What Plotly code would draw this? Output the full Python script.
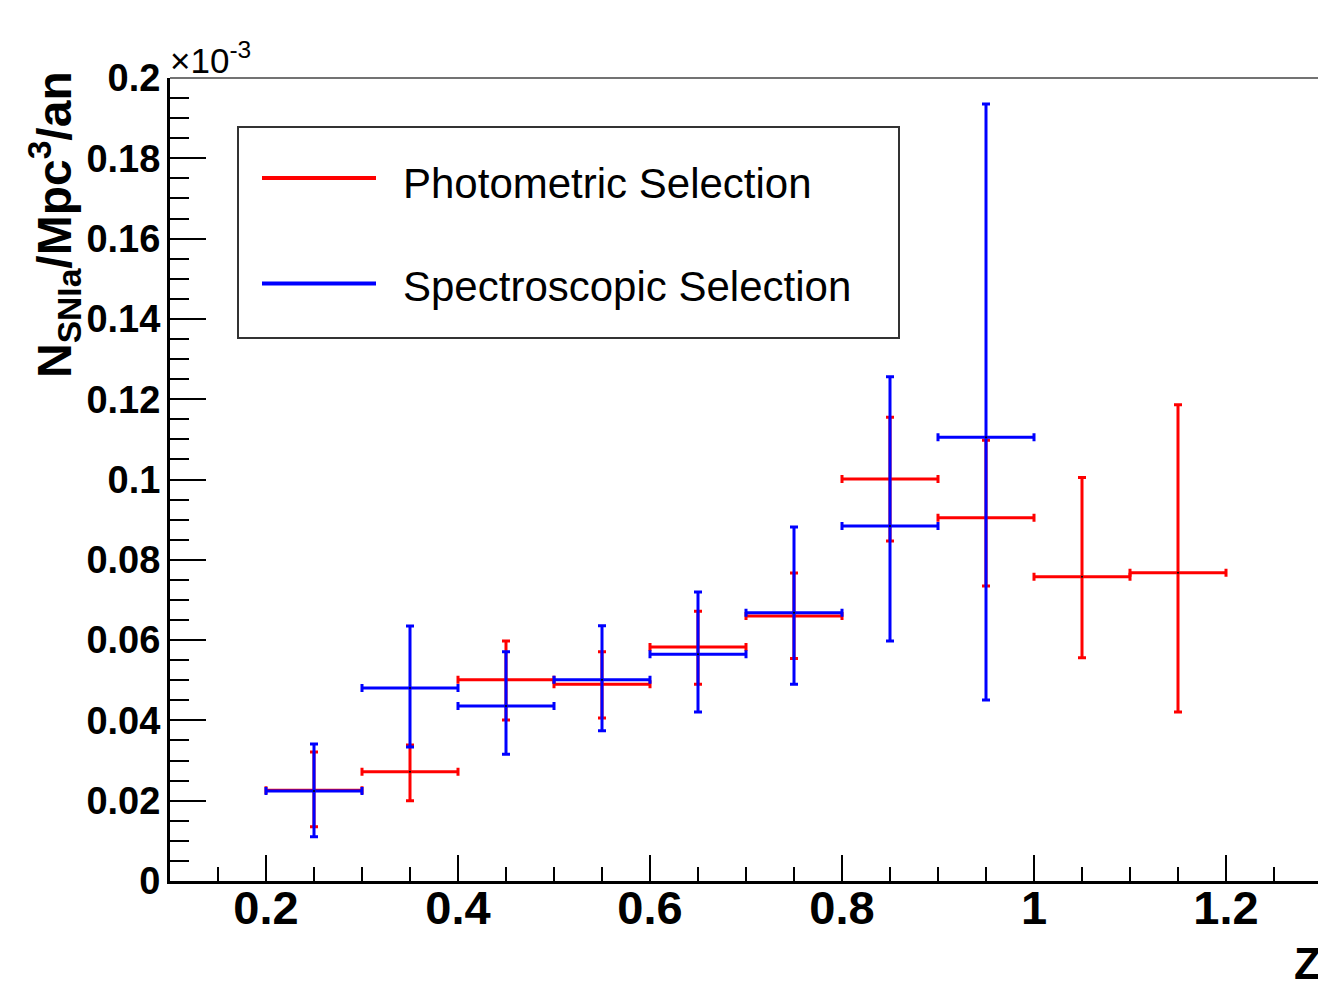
import plotly.graph_objects as go

# ---------------- data (values in units of 1e-3 SNIa / Mpc^3 / an) ----------------
phot_z = [0.25, 0.35, 0.45, 0.55, 0.65, 0.75, 0.85, 0.95, 1.05, 1.15]
phot_rate = [0.0226, 0.0272, 0.0501, 0.0490, 0.0583, 0.0660, 0.1001, 0.0905, 0.0758, 0.0768]
phot_upper = [0.0321, 0.0339, 0.0598, 0.0571, 0.0672, 0.0767, 0.1155, 0.1098, 0.1005, 0.1186]
phot_lower = [0.0135, 0.0200, 0.0401, 0.0406, 0.0490, 0.0554, 0.0847, 0.0735, 0.0556, 0.0421]

spec_z = [0.25, 0.35, 0.45, 0.55, 0.65, 0.75, 0.85, 0.95]
spec_rate = [0.0224, 0.0481, 0.0436, 0.0501, 0.0565, 0.0668, 0.0884, 0.1105]
spec_upper = [0.0341, 0.0635, 0.0571, 0.0636, 0.0720, 0.0882, 0.1256, 0.1935]
spec_lower = [0.0110, 0.0334, 0.0316, 0.0374, 0.0421, 0.0490, 0.0598, 0.0451]

bin_half_width = 0.05

x_tick_vals = [0.2, 0.4, 0.6, 0.8, 1.0, 1.2]
x_tick_labels = ["0.2", "0.4", "0.6", "0.8", "1", "1.2"]
y_tick_vals = [0, 0.02, 0.04, 0.06, 0.08, 0.1, 0.12, 0.14, 0.16, 0.18, 0.2]
y_tick_labels = ["0", "0.02", "0.04", "0.06", "0.08", "0.1", "0.12", "0.14", "0.16", "0.18", "0.2"]

series_names = ["Photometric Selection", "Spectroscopic Selection"]
series_colors = ["#ff0000", "#0000ff"]

FONT = "Liberation Sans, Arial, Helvetica, sans-serif"


def trace(z, rate, upper, lower, name, color):
    return go.Scatter(
        x=z, y=rate, name=name, mode="markers",
        marker=dict(size=2, color="black"),
        error_x=dict(type="constant", value=bin_half_width, color=color,
                     thickness=3, width=4),
        error_y=dict(type="data", symmetric=False,
                     array=[u - r for u, r in zip(upper, rate)],
                     arrayminus=[r - l for r, l in zip(rate, lower)],
                     color=color, thickness=3, width=4),
        showlegend=False,
    )


fig = go.Figure()
fig.add_trace(trace(phot_z, phot_rate, phot_upper, phot_lower, series_names[0], series_colors[0]))
fig.add_trace(trace(spec_z, spec_rate, spec_upper, spec_lower, series_names[1], series_colors[1]))

# plot area in pixels: x 170..1318, y 78..881
L, R, T, B = 170, 1318, 78, 881
W, H = R - L, B - T


def px(x):
    return (x - L) / W


def py(y):
    return (B - y) / H


fig.update_layout(
    width=1318, height=983,
    margin=dict(l=L, r=1318 - R, t=T, b=983 - B, pad=0),
    paper_bgcolor="white", plot_bgcolor="white",
    xaxis=dict(
        range=[0.1, 0.1 + W / 960.0],
        tickmode="array", tickvals=x_tick_vals, ticktext=x_tick_labels,
        ticks="inside", ticklen=26, tickwidth=1.5, tickcolor="black",
        minor=dict(ticks="inside", ticklen=14, tickwidth=1.5, tickcolor="black",
                   tickmode="linear", tick0=0, dtick=0.05),
        showline=True, linewidth=3, linecolor="black",
        showgrid=False, zeroline=False,
        tickfont=dict(family=FONT, size=47, color="black", weight="bold"),
        ticklabelstandoff=-16,
    ),
    yaxis=dict(
        range=[0, 0.2],
        tickmode="array", tickvals=y_tick_vals, ticktext=y_tick_labels,
        ticks="inside", ticklen=36, tickwidth=1.5, tickcolor="black",
        minor=dict(ticks="inside", ticklen=19, tickwidth=1.5, tickcolor="black",
                   tickmode="linear", tick0=0, dtick=0.005),
        showline=True, linewidth=3, linecolor="black",
        showgrid=False, zeroline=False,
        tickfont=dict(family=FONT, size=38, color="black", weight="bold"),
        ticklabelstandoff=-1,
    ),
)

shapes = [
    # top frame
    dict(type="line", xref="paper", yref="paper", x0=0, x1=1, y0=1, y1=1,
         line=dict(color="#444444", width=1.5)),
    # legend box
    dict(type="rect", xref="paper", yref="paper",
         x0=px(238), x1=px(899), y0=py(338), y1=py(127),
         line=dict(color="#333333", width=2), fillcolor="white", layer="below"),
    dict(type="line", xref="paper", yref="paper", x0=px(262), x1=px(376),
         y0=py(178), y1=py(178), line=dict(color=series_colors[0], width=4)),
    dict(type="line", xref="paper", yref="paper", x0=px(262), x1=px(376),
         y0=py(283.5), y1=py(283.5), line=dict(color=series_colors[1], width=4)),
]
fig.update_layout(shapes=shapes)

annotations = [
    dict(text=series_names[0], xref="paper", yref="paper", x=px(401), y=py(184),
         xanchor="left", yanchor="middle", showarrow=False,
         font=dict(family=FONT, size=42, color="black")),
    dict(text=series_names[1], xref="paper", yref="paper", x=px(401), y=py(286),
         xanchor="left", yanchor="middle", showarrow=False,
         font=dict(family=FONT, size=42, color="black")),
    dict(text="<b>N<sub>SNIa</sub>/Mpc<sup>3</sup>/an</b>", xref="paper", yref="paper",
         x=px(55), y=py(225), textangle=-90, xanchor="center", yanchor="middle",
         showarrow=False, font=dict(family=FONT, size=48, color="black")),
    dict(text="×10<sup>-3</sup>", xref="paper", yref="paper", x=px(168), y=py(82),
         xanchor="left", yanchor="bottom", showarrow=False,
         font=dict(family=FONT, size=35, color="black")),
    dict(text="<b>Z</b>", xref="paper", yref="paper", x=px(1292), y=py(937),
         xanchor="left", yanchor="top", showarrow=False,
         font=dict(family=FONT, size=44, color="black")),
]
fig.update_layout(annotations=annotations)

fig.write_html(
    "out.html",
    config={"displayModeBar": False},
    post_script="document.body.style.margin='0';document.body.style.overflow='hidden';",
)
